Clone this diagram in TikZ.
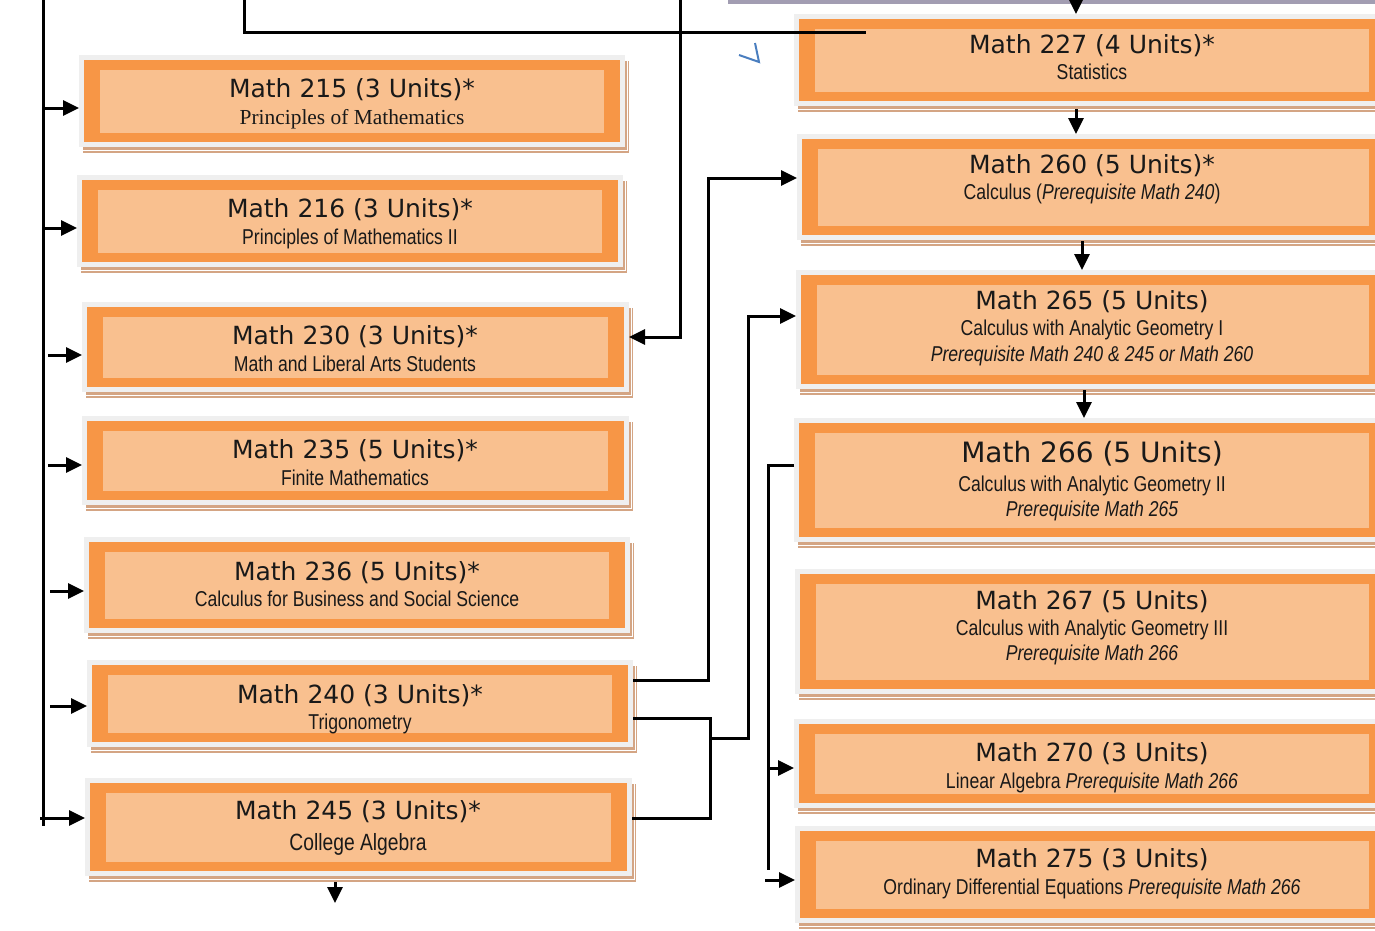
\documentclass[tikz,border=0pt]{standalone}
\usepackage{fontspec}
\usetikzlibrary{arrows.meta,backgrounds}
\newfontfamily\ttlfont{DejaVu Sans}
\newfontfamily\narrowfont{Liberation Sans}[FakeStretch=0.82]
\newfontfamily\serffont{Liberation Serif}
\definecolor{orangeF}{HTML}{F79646}
\definecolor{innerF}{HTML}{F9C08F}
\definecolor{grayF}{HTML}{EFEFEF}
\definecolor{tanF}{HTML}{D4A584}
\definecolor{barC}{HTML}{A29DB2}
\definecolor{blueM}{HTML}{4A7EBF}
\tikzset{
  course/.style={rectangle, fill=orangeF, draw=grayF, line width=5pt, inner sep=0pt,
    path picture={\fill[innerF] ([xshift=18.5pt,yshift=-12pt]path picture bounding box.north west) rectangle ([xshift=-18.5pt,yshift=12pt]path picture bounding box.south east);}},
  ttl/.style={font=\ttlfont\fontsize{25}{30}\selectfont, anchor=base, inner sep=0pt, text=black!90},
  bigttl/.style={font=\ttlfont\fontsize{28}{33}\selectfont, anchor=base, inner sep=0pt, text=black!90},
  sub/.style={font=\narrowfont\fontsize{21.5}{26}\selectfont, anchor=base, inner sep=0pt, text=black!90},
  bigsub/.style={font=\narrowfont\fontsize{23.5}{28}\selectfont, anchor=base, inner sep=0pt, text=black!90},
  serfsub/.style={font=\serffont\fontsize{21.4}{26}\selectfont, anchor=base, inner sep=0pt, text=black!90},
  conn/.style={line width=3pt, draw=black},
  arr/.style={conn, -{Triangle[length=16pt,width=15pt]}}
}
% #1 name, #2 x1, #3 y1, #4 x2, #5 y2 (orange frame, pixel coords)
\newcommand\cbox[5]{%
  \node[course, minimum width={(#4-#2+5)*1pt}, minimum height={(#5-#3+5)*1pt}] (#1) at ({(#2+#4)/2},{(#3+#5)/2}) {};
  \begin{scope}[on background layer]
    \fill[tanF] ([shift={(4pt,-6pt)}]#1.south west) rectangle ([shift={(4pt,-6pt)}]#1.north east);
    \draw[white, line width=1pt] ([shift={(2pt,-3pt)}]#1.south west) rectangle ([shift={(2pt,-3pt)}]#1.north east);
  \end{scope}}
\begin{document}
\begin{tikzpicture}[x=1pt,y=-1pt]
\useasboundingbox (0,0) rectangle (1375,930);
\clip (0,0) rectangle (1375,930);
\fill[barC] (728,0) rectangle (1375,3.5);

% left column
\cbox{b215}{84}{60}{620}{142}
\cbox{b216}{82}{180}{618}{262}
\cbox{b230}{87}{307}{624}{387}
\cbox{b235}{87}{421}{624}{500}
\cbox{b236}{89}{542}{625}{628}
\cbox{b240}{92}{665}{628}{742}
\cbox{b245}{90}{783}{627}{871}
% right column
\cbox{b227}{799}{19}{1385}{101}
\cbox{b260}{802}{139}{1385}{235}
\cbox{b265}{801}{275}{1385}{384}
\cbox{b266}{799}{423}{1385}{537}
\cbox{b267}{800}{574}{1385}{689}
\cbox{b270}{799}{724}{1385}{803}
\cbox{b275}{800}{831}{1385}{918}

% texts left
\node[ttl] (t215) at (352,97) {Math 215 (3 Units)*};
\node[serfsub] (s215) at (352,124) {Principles of Mathematics};
\node[ttl] (t216) at (350,217) {Math 216 (3 Units)*};
\node[sub] (s216) at (350,244) {Principles of Mathematics II};
\node[ttl] (t230) at (355,344) {Math 230 (3 Units)*};
\node[sub] (s230) at (355,371) {Math and Liberal Arts Students};
\node[ttl] (t235) at (355,458) {Math 235 (5 Units)*};
\node[sub] (s235) at (355,485) {Finite Mathematics};
\node[ttl] (t236) at (357,580) {Math 236 (5 Units)*};
\node[sub] (s236) at (357,606) {Calculus for Business and Social Science};
\node[ttl] (t240) at (360,703) {Math 240 (3 Units)*};
\node[sub] (s240) at (360,729) {Trigonometry};
\node[ttl] (t245) at (358,819) {Math 245 (3 Units)*};
\node[bigsub] (s245) at (358,850) {College Algebra};

% texts right
\node[ttl] (t227) at (1092,53) {Math 227 (4 Units)*};
\node[sub] (s227) at (1092,79) {Statistics};
\node[ttl] (t260) at (1092,173) {Math 260 (5 Units)*};
\node[sub] (s260) at (1092,199) {Calculus (\textit{Prerequisite Math 240})};
\node[ttl] (t265) at (1092,309) {Math 265 (5 Units)};
\node[sub] (s265) at (1092,335) {Calculus with Analytic Geometry I};
\node[sub] (p265) at (1092,361) {\itshape Prerequisite Math 240 \& 245 or Math 260};
\node[bigttl] (t266) at (1092,462) {Math 266 (5 Units)};
\node[sub] (s266) at (1092,491) {Calculus with Analytic Geometry II};
\node[sub] (p266) at (1092,516) {\itshape Prerequisite Math 265};
\node[ttl] (t267) at (1092,609) {Math 267 (5 Units)};
\node[sub] (s267) at (1092,635) {Calculus with Analytic Geometry III};
\node[sub] (p267) at (1092,660) {\itshape Prerequisite Math 266};
\node[ttl] (t270) at (1092,761) {Math 270 (3 Units)};
\node[sub] (s270) at (1092,788) {Linear Algebra \textit{Prerequisite Math 266}};
\node[ttl] (t275) at (1092,867) {Math 275 (3 Units)};
\node[sub] (s275) at (1092,894) {Ordinary Differential Equations \textit{Prerequisite Math 266}};

% left trunk
\coordinate (L0) at (43,0); \coordinate (L1) at (43,826);
\draw[conn] (L0) -- (L1);
\coordinate (a215) at (44,108); \draw[arr] (a215) -- (a215 -| b215.west);
\coordinate (a216) at (44,228); \draw[arr] (a216) -- (a216 -| b216.west);
\coordinate (a230) at (48,355); \draw[arr] (a230) -- (a230 -| b230.west);
\coordinate (a235) at (48,465); \draw[arr] (a235) -- (a235 -| b235.west);
\coordinate (a236) at (50,591); \draw[arr] (a236) -- (a236 -| b236.west);
\coordinate (a240) at (50,706); \draw[arr] (a240) -- (a240 -| b240.west);
\coordinate (a245) at (40,818); \draw[arr] (a245) -- (a245 -| b245.west);

% top lines
\coordinate (p1) at (244,0); \coordinate (p2) at (244,32); \coordinate (p3) at (866,32);
\draw[conn] (p1) -- (p2) -- (p3);
\coordinate (q1) at (680,0); \coordinate (q2) at (680,337);
\draw[arr] (q1) -- (q2) -- (q2 -| b230.east);

% right chain
\coordinate (r0) at (1076,0); \draw[arr] (r0) -- (r0 |- b227.north);
\coordinate (r1) at (1076,109); \draw[arr] (r1) -- (r1 |- b260.north);
\coordinate (r2) at (1082,241); \draw[arr] (r2) -- (r2 |- b265.north);
\coordinate (r3) at (1084,390); \draw[arr] (r3) -- (r3 |- b266.north);

% 240 -> 260
\coordinate (s1) at (708,680); \coordinate (s2) at (708,178);
\draw[arr] (s1 -| b240.east) -- (s1) -- (s2) -- (s2 -| b260.west);
% 240 / 245 -> 265
\coordinate (u1) at (710,718); \coordinate (u2) at (710,818);
\draw[conn] (u1 -| b240.east) -- (u1) -- (u2) -- (u2 -| b245.east);
\coordinate (v1) at (710,738); \coordinate (v2) at (748,738); \coordinate (v3) at (748,316);
\draw[arr] (v1) -- (v2) -- (v3) -- (v3 -| b265.west);
% 266 -> 270, 275
\coordinate (w1) at (768,465); \coordinate (w2) at (768,870);
\draw[conn] (w1 -| b266.west) -- (w1) -- (w2);
\coordinate (w3) at (768,768); \draw[arr] (w3) -- (w3 -| b270.west);
\coordinate (w4) at (765,880); \draw[arr] (w4) -- (w4 -| b275.west);
% 245 down
\coordinate (z1) at (335,882); \coordinate (z2) at (335,903);
\draw[arr] (z1) -- (z2);

% small blue mark
\draw[blueM, line width=2pt] (739,55) -- (759,62) -- (755,43);
\end{tikzpicture}
\end{document}
